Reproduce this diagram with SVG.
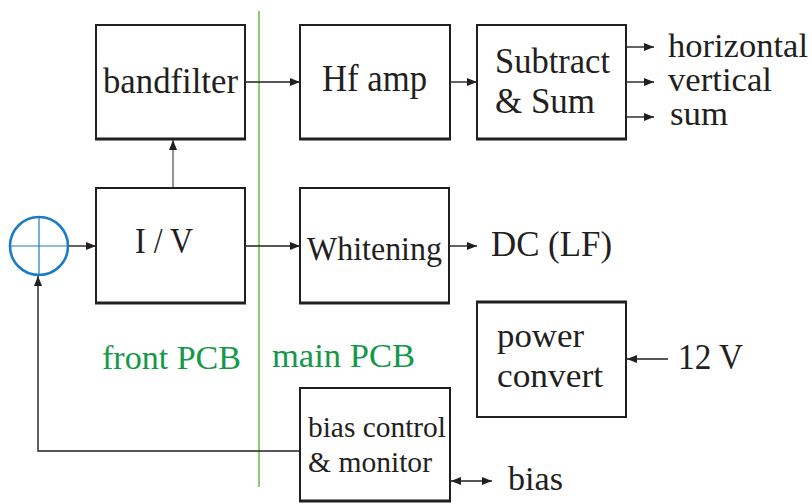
<svg xmlns="http://www.w3.org/2000/svg" width="812" height="504" viewBox="0 0 812 504" font-family="Liberation Serif, Times New Roman, serif">
<defs>
<style>
.box{fill:#fff;stroke:#231f20;stroke-width:2}
.edge{stroke:#231f20;stroke-width:3}
.t{fill:#231f20}
.g{fill:#14984a}
.c{stroke:#231f20;stroke-width:1.4;fill:none}
</style>
<marker id="ah" viewBox="0 0 10 10" refX="10" refY="5" markerWidth="10" markerHeight="10" markerUnits="userSpaceOnUse" orient="auto-start-reverse">
<path d="M0,1 L10,5 L0,9 Z" fill="#231f20"/>
</marker>
</defs>
<rect width="812" height="504" fill="#fff"/>
<line x1="259" y1="11" x2="259" y2="487" stroke="#66bd3f" stroke-width="1.5"/>
<g id="connectors">
<line class="c" x1="245" y1="82" x2="300" y2="82" marker-end="url(#ah)"/>
<line class="c" x1="450" y1="82" x2="477" y2="82" marker-end="url(#ah)"/>
<line class="c" x1="626" y1="47" x2="654" y2="47" marker-end="url(#ah)"/>
<line class="c" x1="626" y1="82" x2="654" y2="82" marker-end="url(#ah)"/>
<line class="c" x1="626" y1="117" x2="654" y2="117" marker-end="url(#ah)"/>
<line x1="173" y1="188" x2="173" y2="140" stroke="#666" stroke-width="1.4" marker-end="url(#ah)"/>
<line class="c" x1="68" y1="246" x2="96" y2="246" marker-end="url(#ah)"/>
<line class="c" x1="245" y1="246" x2="300" y2="246" marker-end="url(#ah)"/>
<line class="c" x1="449" y1="246" x2="477" y2="246" marker-end="url(#ah)"/>
<polyline class="c" points="300,451 38,451 38,276" marker-end="url(#ah)"/>
<line class="c" x1="668" y1="359" x2="627" y2="359" marker-end="url(#ah)"/>
<line class="c" x1="451" y1="481" x2="492" y2="481" marker-start="url(#ah)" marker-end="url(#ah)"/>
</g>
<g id="sum-node">
<circle cx="39" cy="246" r="29" fill="none" stroke="#1a7bc8" stroke-width="2.6"/>
<line x1="10" y1="246" x2="68" y2="246" stroke="#1a7bc8" stroke-width="1.2"/>
<line x1="39" y1="217" x2="39" y2="275" stroke="#1a7bc8" stroke-width="1.2"/>
</g>
<g id="bandfilter">
<rect class="box" x="96" y="25" width="149" height="114"/>
<line class="edge" x1="95" y1="139" x2="246" y2="139"/>
<text class="t" x="103" y="93" font-size="36" textLength="135" lengthAdjust="spacingAndGlyphs">bandfilter</text>
</g>
<g id="hfamp">
<rect class="box" x="300" y="25" width="150" height="114"/>
<line class="edge" x1="299" y1="139" x2="451" y2="139"/>
<text class="t" x="322" y="91" font-size="37" textLength="105" lengthAdjust="spacingAndGlyphs">Hf amp</text>
</g>
<g id="subtract">
<rect class="box" x="477" y="25" width="149" height="114"/>
<line class="edge" x1="476" y1="139" x2="627" y2="139"/>
<text class="t" x="495" y="73" font-size="35" textLength="115" lengthAdjust="spacingAndGlyphs">Subtract</text>
<text class="t" x="495" y="113" font-size="35" textLength="100" lengthAdjust="spacingAndGlyphs">&amp; Sum</text>
</g>
<g id="outputs">
<text class="t" x="668" y="57" font-size="33" textLength="140" lengthAdjust="spacingAndGlyphs">horizontal</text>
<text class="t" x="668" y="91" font-size="33" textLength="104" lengthAdjust="spacingAndGlyphs">vertical</text>
<text class="t" x="670" y="125" font-size="33" textLength="58" lengthAdjust="spacingAndGlyphs">sum</text>
</g>
<g id="iv">
<rect class="box" x="96" y="188" width="149" height="115"/>
<line class="edge" x1="95" y1="303" x2="246" y2="303"/>
<text class="t" x="135" y="253" font-size="36" textLength="58" lengthAdjust="spacingAndGlyphs">I / V</text>
</g>
<g id="whitening">
<rect class="box" x="300" y="188" width="149" height="115"/>
<line class="edge" x1="299" y1="303" x2="450" y2="303"/>
<text class="t" x="307" y="260" font-size="33" textLength="135" lengthAdjust="spacingAndGlyphs">Whitening</text>
</g>
<g id="dc">
<text class="t" x="491" y="256" font-size="35" textLength="121" lengthAdjust="spacingAndGlyphs">DC (LF)</text>
</g>
<g id="power">
<rect class="box" x="477" y="302" width="149" height="115"/>
<line class="edge" x1="476" y1="302" x2="627" y2="302"/>
<text class="t" x="497" y="347" font-size="33" textLength="87" lengthAdjust="spacingAndGlyphs">power</text>
<text class="t" x="497" y="387" font-size="33" textLength="106" lengthAdjust="spacingAndGlyphs">convert</text>
</g>
<g id="v12">
<text class="t" x="678" y="369" font-size="35" textLength="65" lengthAdjust="spacingAndGlyphs">12 V</text>
</g>
<g id="bias-control">
<rect class="box" x="300" y="388" width="150" height="113"/>
<line class="edge" x1="299" y1="501" x2="451" y2="501"/>
<text class="t" x="308" y="437" font-size="30" textLength="138" lengthAdjust="spacingAndGlyphs">bias control</text>
<text class="t" x="308" y="472" font-size="30" textLength="124" lengthAdjust="spacingAndGlyphs">&amp; monitor</text>
</g>
<g id="bias">
<text class="t" x="508" y="490" font-size="33" textLength="55" lengthAdjust="spacingAndGlyphs">bias</text>
</g>
<g id="labels">
<text class="g" x="102" y="369" font-size="33" textLength="139" lengthAdjust="spacingAndGlyphs">front PCB</text>
<text class="g" x="272" y="367" font-size="33" textLength="143" lengthAdjust="spacingAndGlyphs">main PCB</text>
</g>
</svg>
